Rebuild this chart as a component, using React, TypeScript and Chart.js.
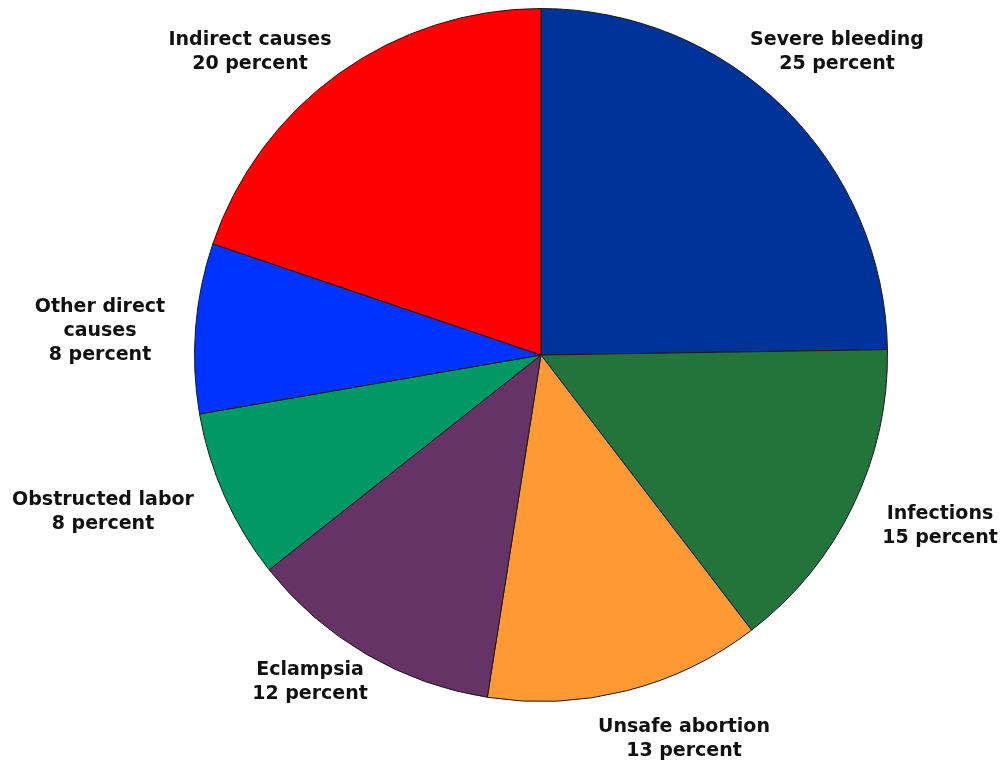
import React, { useEffect, useRef } from "react";
import { Chart, registerables } from "chart.js";

Chart.register(...registerables);

const categories = [
  "Severe bleeding",
  "Infections",
  "Unsafe abortion",
  "Eclampsia",
  "Obstructed labor",
  "Other direct causes",
  "Indirect causes",
];
const values = [25, 15, 13, 12, 8, 8, 20];
const labelLines = [
  ["Severe bleeding", "25 percent"],
  ["Infections", "15 percent"],
  ["Unsafe abortion", "13 percent"],
  ["Eclampsia", "12 percent"],
  ["Obstructed labor", "8 percent"],
  ["Other direct", "causes", "8 percent"],
  ["Indirect causes", "20 percent"],
];
const colors = ["#003399", "#22743A", "#FF9933", "#663366", "#009966", "#0033FF", "#FF0000"];

// label anchor offsets relative to pie centre (px), first-line centre
const labelOffsets: [number, number][] = [
  [296, -315],
  [399, 159],
  [143, 372],
  [-231, 315],
  [-438, 145],
  [-441, -48],
  [-291, -315],
];

const labelPlugin = {
  id: "outerLabels",
  afterDatasetsDraw(chart: any) {
    const ctx = chart.ctx;
    const meta = chart.getDatasetMeta(0);
    const first = meta.data[0];
    if (!first) return;
    const cx = first.x;
    const cy = first.y;
    ctx.save();
    ctx.font = "bold 19px 'DejaVu Sans', Verdana, sans-serif";
    ctx.fillStyle = "#111111";
    ctx.textAlign = "center";
    ctx.textBaseline = "middle";
    labelLines.forEach((lines, i) => {
      const [dx, dy] = labelOffsets[i];
      lines.forEach((t, j) => {
        ctx.fillText(t, cx + dx, cy + dy + j * 24);
      });
    });
    ctx.restore();
  },
};

export default function App() {
  const ref = useRef<HTMLCanvasElement>(null);
  useEffect(() => {
    if (!ref.current) return;
    const chart = new Chart(ref.current, {
      type: "pie",
      data: {
        labels: categories,
        datasets: [
          {
            data: values,
            backgroundColor: colors,
            borderColor: "#1a1a1a",
            borderWidth: 1,
          },
        ],
      },
      options: {
        animation: false,
        responsive: false,
        maintainAspectRatio: false,
        layout: { padding: { top: 8, bottom: 63, left: 194, right: 117 } },
        plugins: {
          legend: { display: false },
          tooltip: { enabled: false },
          title: { display: false },
        },
      },
      plugins: [labelPlugin],
    });
    return () => chart.destroy();
  }, []);
  return (
    <div style={{ position: "fixed", left: 0, top: 0, width: 1005, height: 765, background: "#fff" }}>
      <canvas ref={ref} width={1005} height={765} style={{ width: 1005, height: 765 }} />
    </div>
  );
}
